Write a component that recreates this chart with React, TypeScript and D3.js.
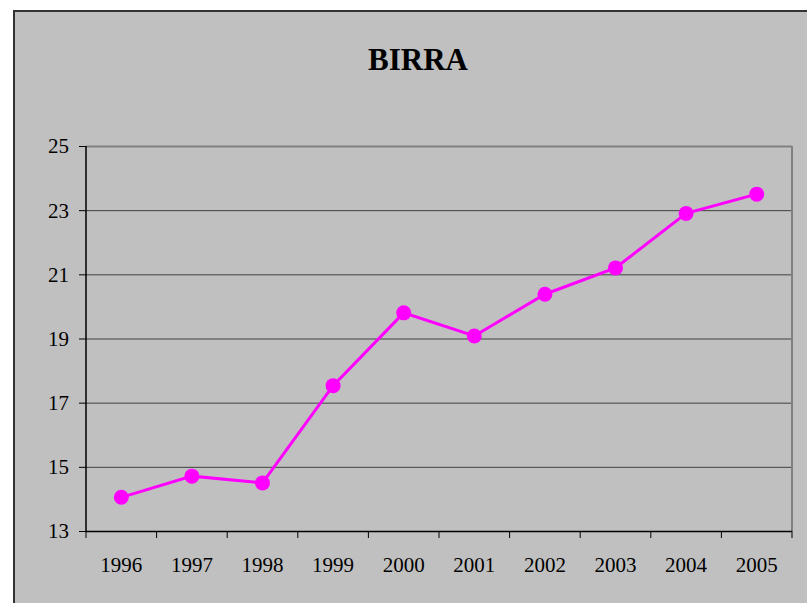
import React from "react";
import * as d3 from "d3";

const years = ["1996", "1997", "1998", "1999", "2000", "2001", "2002", "2003", "2004", "2005"];
const values = [14.05, 14.71, 14.5, 17.53, 19.8, 19.08, 20.38, 21.2, 22.9, 23.5];
const yTicks = [13, 15, 17, 19, 21, 23, 25];
const title = "BIRRA";

export default function App() {
  const W = 807, H = 603;
  const left = 86, right = 792, top = 146, bottom = 531;
  const x = d3.scaleBand<string>().domain(years).range([left, right]);
  const y = d3.scaleLinear().domain([13, 25]).range([bottom, top]);
  const line = d3
    .line<number>()
    .x((_, i) => (x(years[i]) as number) + x.bandwidth() / 2)
    .y((d) => y(d));
  const font = "'Liberation Serif', 'Times New Roman', serif";
  const boundaries = years.map((yr) => x(yr) as number).concat([right]);

  return (
    <svg
      width={W}
      height={H}
      style={{ position: "absolute", left: 0, top: 0, background: "#ffffff" }}
      fontFamily={font}
    >
      <rect x={14} y={11} width={W} height={H} fill="#c0c0c0" stroke="#333333" strokeWidth={2} />
      <text x={418} y={70} textAnchor="middle" fontSize={31} fontWeight="bold" fill="#000">
        {title}
      </text>
      {yTicks.map((t) => (
        <g key={t}>
          {t !== 13 && t !== 25 && (
            <line x1={left} x2={right} y1={y(t) + 0.5} y2={y(t) + 0.5} stroke="#404040" strokeWidth={1} />
          )}
          <line x1={79} x2={left} y1={y(t) + 0.5} y2={y(t) + 0.5} stroke="#000" strokeWidth={1} />
          <text x={69} y={y(t)} dy="0.35em" textAnchor="end" fontSize={21} fill="#000">
            {t}
          </text>
        </g>
      ))}
      <line x1={left} x2={right} y1={top + 0.5} y2={top + 0.5} stroke="#808080" strokeWidth={2} />
      <line x1={right} x2={right} y1={top} y2={bottom} stroke="#808080" strokeWidth={2} />
      <line x1={left} x2={left} y1={top} y2={bottom + 1} stroke="#000" strokeWidth={1.5} />
      <line x1={left} x2={right} y1={bottom + 0.5} y2={bottom + 0.5} stroke="#000" strokeWidth={1.5} />
      {boundaries.map((b, i) => (
        <line key={i} x1={b} x2={b} y1={bottom} y2={538} stroke="#000" strokeWidth={1} />
      ))}
      {years.map((yr) => (
        <text
          key={yr}
          x={(x(yr) as number) + x.bandwidth() / 2}
          y={572}
          textAnchor="middle"
          fontSize={21}
          fill="#000"
        >
          {yr}
        </text>
      ))}
      <path d={line(values) || ""} fill="none" stroke="#ff00ff" strokeWidth={3} />
      {values.map((v, i) => (
        <circle
          key={i}
          cx={(x(years[i]) as number) + x.bandwidth() / 2}
          cy={y(v)}
          r={7.5}
          fill="#ff00ff"
        />
      ))}
    </svg>
  );
}
